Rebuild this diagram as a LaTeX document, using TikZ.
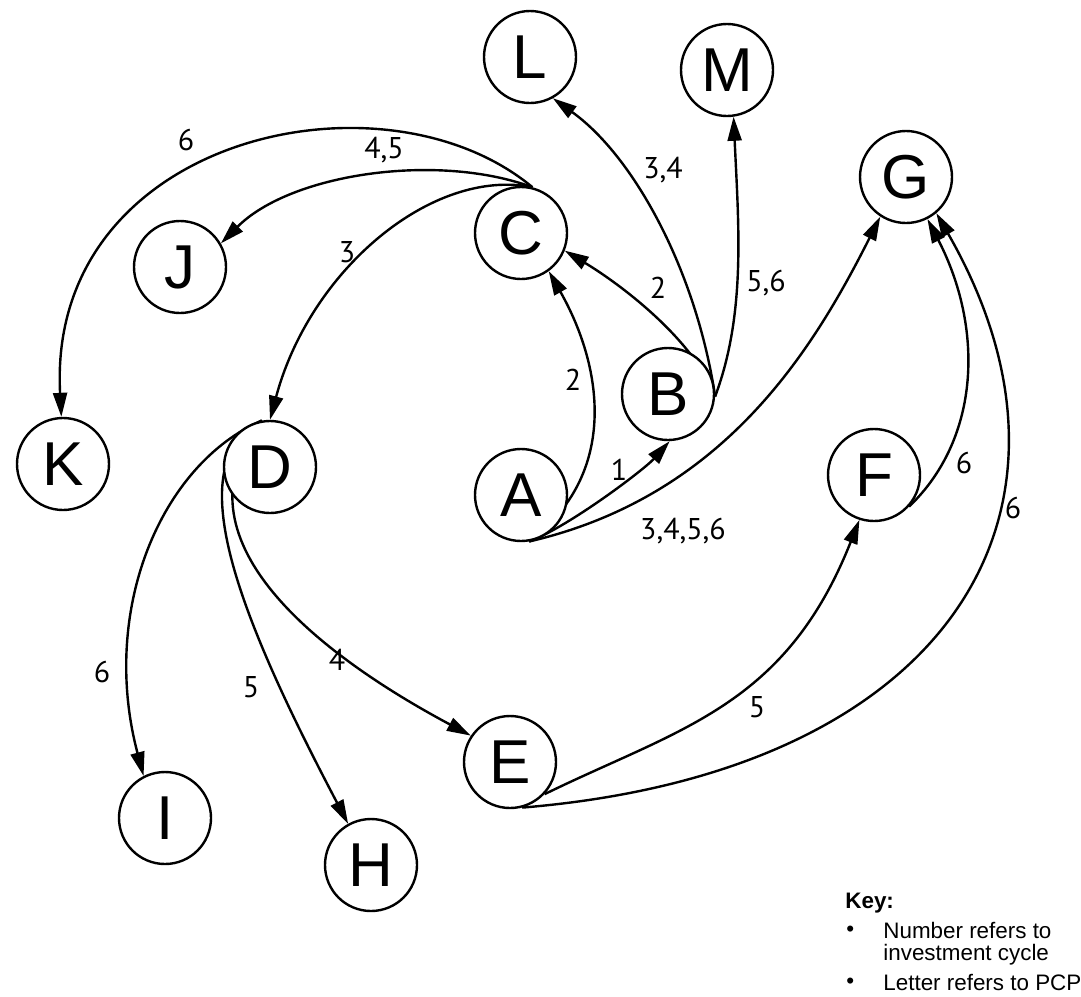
\documentclass[tikz,border=0pt]{standalone}
\usepackage{fontspec}
\setmainfont{Liberation Sans}
\newfontfamily\numfont{PT Sans}
\usetikzlibrary{arrows.meta,backgrounds}

\begin{document}
\begin{tikzpicture}[x=0.5pt, y=-0.5pt,
    pcp/.style={circle, draw, line width=1.2pt, fill=white, minimum size=46pt, inner sep=0pt, font=\fontsize{31}{31}\selectfont},
    cyc/.style={inner sep=1pt, font=\numfont\fontsize{15}{15}\selectfont},
    link/.style={line width=1.2pt, -{Triangle[length=12pt,width=7pt]}},
    keytxt/.style={anchor=west, inner sep=0pt, font=\fontsize{11.2}{12}\selectfont}]
    \useasboundingbox (0,0) rectangle (1081,996);

    \node[pcp] (A) at (521,495) {A};
    \node[pcp] (B) at (668,394) {B};
    \node[pcp] (C) at (521,233) {C};
    \node[pcp] (D) at (270,467) {D};
    \node[pcp] (E) at (510,762) {E};
    \node[pcp] (F) at (874,475) {F};
    \node[pcp] (G) at (906,177) {G};
    \node[pcp] (H) at (371,865) {H};
    \node[pcp] (I) at (165,818) {I};
    \node[pcp] (J) at (180,267) {J};
    \node[pcp] (K) at (63,464) {K};
    \node[pcp] (L) at (530,57) {L};
    \node[pcp] (M) at (727,70) {M};

    \begin{scope}[on background layer]
        \draw[link] (C.76) .. controls +(-150,-125) and +(-15,-280) .. (K.92);
        \draw[link] (C.76) .. controls +(-95,-35) and +(70,-70) .. (J.30);
        \draw[link] (C.76) .. controls +(-100,-20) and +(40,-150) .. (D.north);
        \draw[link] (B.-3) .. controls +(-21,-56) and +(58,35) .. (C.-22);
        \draw[link] (B.-3) .. controls +(-19,-126) and +(81,58) .. (L.-61);
        \draw[link] (B.-3) .. controls +(31,-83) and +(5,109) .. (M.-82);
        \draw[link] (A.-80) .. controls +(40,-15) and +(-25,28) .. (B.-88);
        \draw[link] (A.-80) .. controls +(88,-66) and +(56,99) .. (C.-54);
        \draw[link] (A.-80) .. controls +(194,-45) and +(-68,135) .. (G.-123);
        \draw[link] (F.-42) .. controls +(72,-69) and +(56,108) .. (G.-63);
        \draw[link] (E.-75) .. controls +(425,-35) and +(172,300) .. (G.-50);
        \draw[link] (E.-43) .. controls +(135,-66) and +(-74,187) .. (F.-108);
        \draw[link] (D.100) .. controls +(-101,44) and +(-44,-166) .. (I.117);
        \draw[link] (D.100) .. controls +(-80,41) and +(-118,-224) .. (H.119);
        \draw[link] (D.100) .. controls +(-95,118) and +(-150,-80) .. (E.146);
    \end{scope}

    \node[cyc] (ck) at (186,140) {6};
    \node[cyc] (cj) at (384,150) {4,5};
    \node[cyc] (cd) at (347,252) {3};
    \node[cyc] (bl) at (663,170) {3,4};
    \node[cyc] (bm) at (766,283) {5,6};
    \node[cyc] (bc) at (658,288) {2};
    \node[cyc] (ac) at (573,380) {2};
    \node[cyc] (ab) at (619,470) {1};
    \node[cyc] (ag) at (683,531) {3,4,5,6};
    \node[cyc] (fg) at (964,463) {6};
    \node[cyc] (eg) at (1013,508) {6};
    \node[cyc] (ef) at (757,707) {5};
    \node[cyc] (de) at (337,660) {4};
    \node[cyc] (dh) at (251,687) {5};
    \node[cyc] (di) at (102,672) {6};

    \node[keytxt] (key) at (845,903) {\textbf{Key:}};
    \node[keytxt] (dot1) at (846,931) {\textbullet};
    \node[keytxt] (num) at (883,930) {Number refers to};
    \node[keytxt] (inv) at (883,955) {investment cycle};
    \node[keytxt] (dot2) at (846,983) {\textbullet};
    \node[keytxt] (let) at (883,982) {Letter refers to PCP};
\end{tikzpicture}
\end{document}
